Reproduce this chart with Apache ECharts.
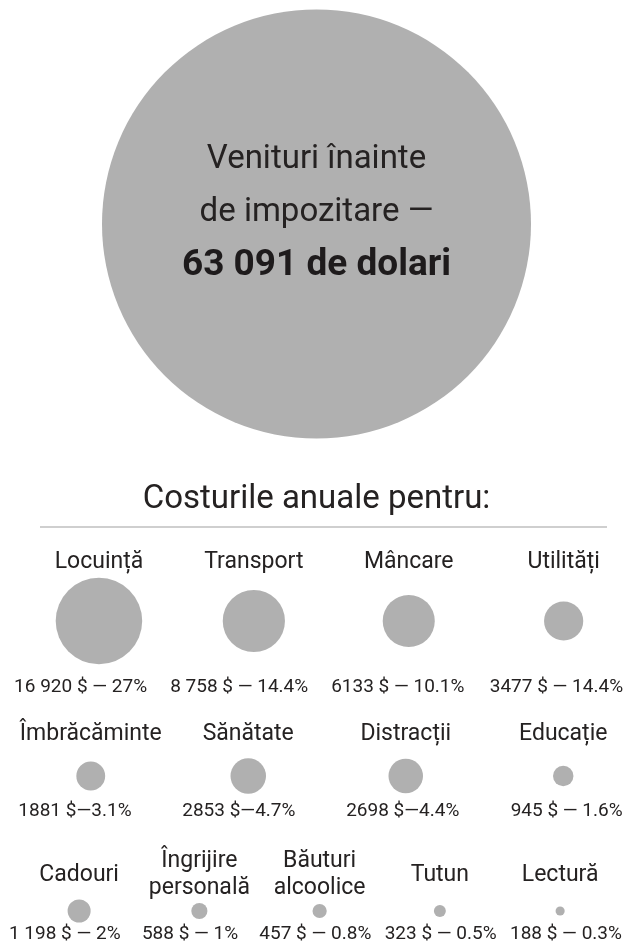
<!DOCTYPE html>
<html>
<head>
<meta charset="utf-8">
<script src="https://cdn.jsdelivr.net/npm/echarts@6/dist/echarts.min.js"></script>
<style>
html,body{margin:0;padding:0;background:#fff;}
#chart{width:633px;height:943px;}
</style>
</head>
<body>
<div id="chart"></div>
<script>
// ---------- DATA ----------
const incomeValue = 63091;
const incomeLines = ['Venituri înainte', 'de impozitare —'];
const incomeUnit = 'de dolari';
const sectionTitle = 'Costurile anuale pentru:';

const row1Names = ['Locuință', 'Transport', 'Mâncare', 'Utilități'];
const row1Values = [16920, 8758, 6133, 3477];
const row1Labels = ['16 920 $ — 27%', '8 758 $ — 14.4%', '6133 $ — 10.1%', '3477 $ — 14.4%'];

const row2Names = ['Îmbrăcăminte', 'Sănătate', 'Distracții', 'Educație'];
const row2Values = [1881, 2853, 2698, 945];
const row2Labels = ['1881 $—3.1%', '2853 $—4.7%', '2698 $—4.4%', '945 $ — 1.6%'];

const row3Names = ['Cadouri', 'Îngrijire\npersonală', 'Băuturi\nalcoolice', 'Tutun', 'Lectură'];
const row3Values = [1198, 588, 457, 323, 188];
const row3Labels = ['1 198 $ — 2%', '588 $ — 1%', '457 $ — 0.8%', '323 $ — 0.5%', '188 $ — 0.3%'];

// ---------- STYLE ----------
const FONT = 'Roboto, "Noto Sans", sans-serif';
const TEXT = '#252222';
const BUBBLE = '#b0b0b0';
const INCOME_SIZE = 429;
const MAX_COST_SIZE = 86.5;
const maxCost = Math.max(...row1Values, ...row2Values, ...row3Values);
const costSize = v => MAX_COST_SIZE * Math.sqrt(v / maxCost);

function fmtThousands(n) {
  return String(n).replace(/\B(?=(\d{3})+(?!\d))/g, ' ');
}

// layout per row: shapes grid (circles + names) and values grid (value labels)
const rows = [
  { names: row1Names, values: row1Values, labels: row1Labels,
    shape: { left: 21.5, top: 572, width: 619.6, height: 98 }, nameMargin: 10,
    val:   { left: 1.3, top: 572, width: 634.4, height: 98 }, valMargin: 17 },
  { names: row2Names, values: row2Values, labels: row2Labels,
    shape: { left: 12, top: 750, width: 630, height: 52 }, nameMargin: 16,
    val:   { left: -7, top: 750, width: 655.6, height: 52 }, valMargin: 9.5 },
  { names: row3Names, values: row3Values, labels: row3Labels,
    shape: { left: 19, top: 898, width: 601.25, height: 26 }, nameMargin: 23,
    val:   { left: 2.1, top: 898, width: 626.5, height: 26 }, valMargin: 10.5 }
];

const grids = [{ left: 0, top: 0, width: 633, height: 448, containLabel: false, outerBoundsMode: 'none' }];
const xAxes = [{ gridIndex: 0, type: 'category', data: ['income'], show: false }];
const yAxes = [{ gridIndex: 0, type: 'category', data: ['income'], show: false }];
const series = [{
  type: 'scatter', xAxisIndex: 0, yAxisIndex: 0,
  data: [['income', 'income', incomeValue]],
  symbolSize: INCOME_SIZE,
  itemStyle: { color: BUBBLE, opacity: 1 },
  silent: true,
  label: {
    show: true, position: 'inside', offset: [0, -11.5],
    formatter: d => `{a|${incomeLines[0]}}\n{a|${incomeLines[1]}}\n{b|${fmtThousands(d.value[2])} ${incomeUnit}}`,
    rich: {
      a: { fontFamily: FONT, fontSize: 33, lineHeight: 53, color: TEXT, align: 'center' },
      b: { fontFamily: FONT, fontSize: 37, fontWeight: 'bold', lineHeight: 52, color: '#1e1b1c', align: 'center' }
    }
  }
}];

rows.forEach((r, i) => {
  const gS = grids.length;
  grids.push(Object.assign({ containLabel: false, outerBoundsMode: 'none' }, r.shape));
  xAxes.push({
    gridIndex: gS, type: 'category', data: r.names, position: 'top',
    axisLine: { show: false }, axisTick: { show: false }, splitLine: { show: false },
    axisLabel: { interval: 0, margin: r.nameMargin, verticalAlign: 'middle',
      fontFamily: FONT, fontSize: 23, lineHeight: 27, color: TEXT }
  });
  yAxes.push({ gridIndex: gS, type: 'category', data: ['r'], show: false });
  series.push({
    type: 'scatter', xAxisIndex: gS, yAxisIndex: gS, silent: true,
    data: r.names.map((n, k) => [n, 'r', r.values[k]]),
    symbolSize: d => costSize(d[2]),
    itemStyle: { color: BUBBLE, opacity: 1 }
  });

  const gV = grids.length;
  grids.push(Object.assign({ containLabel: false, outerBoundsMode: 'none' }, r.val));
  xAxes.push({
    gridIndex: gV, type: 'category', data: r.labels, position: 'bottom',
    axisLine: { show: false }, axisTick: { show: false }, splitLine: { show: false },
    axisLabel: { interval: 0, margin: r.valMargin, verticalAlign: 'middle',
      fontFamily: FONT, fontSize: 19, color: TEXT }
  });
  yAxes.push({ gridIndex: gV, type: 'category', data: ['r'], show: false });
  series.push({
    type: 'scatter', xAxisIndex: gV, yAxisIndex: gV, silent: true,
    data: r.labels.map((l, k) => [l, 'r', r.values[k]]),
    symbolSize: 0, itemStyle: { opacity: 0 }
  });
});

const chart = echarts.init(document.getElementById('chart'), null, { renderer: 'canvas' });
chart.setOption({
  backgroundColor: '#ffffff',
  animation: false,
  title: {
    text: sectionTitle, left: 'center', top: 483, padding: 0,
    textStyle: { fontFamily: FONT, fontSize: 33, fontWeight: 'normal', lineHeight: 34, color: TEXT }
  },
  graphic: [{
    type: 'line', silent: true,
    shape: { x1: 40, y1: 527, x2: 607, y2: 527 },
    style: { stroke: '#cfcfcf', lineWidth: 2 }
  }],
  grid: grids,
  xAxis: xAxes,
  yAxis: yAxes,
  series: series
});
</script>
</body>
</html>
